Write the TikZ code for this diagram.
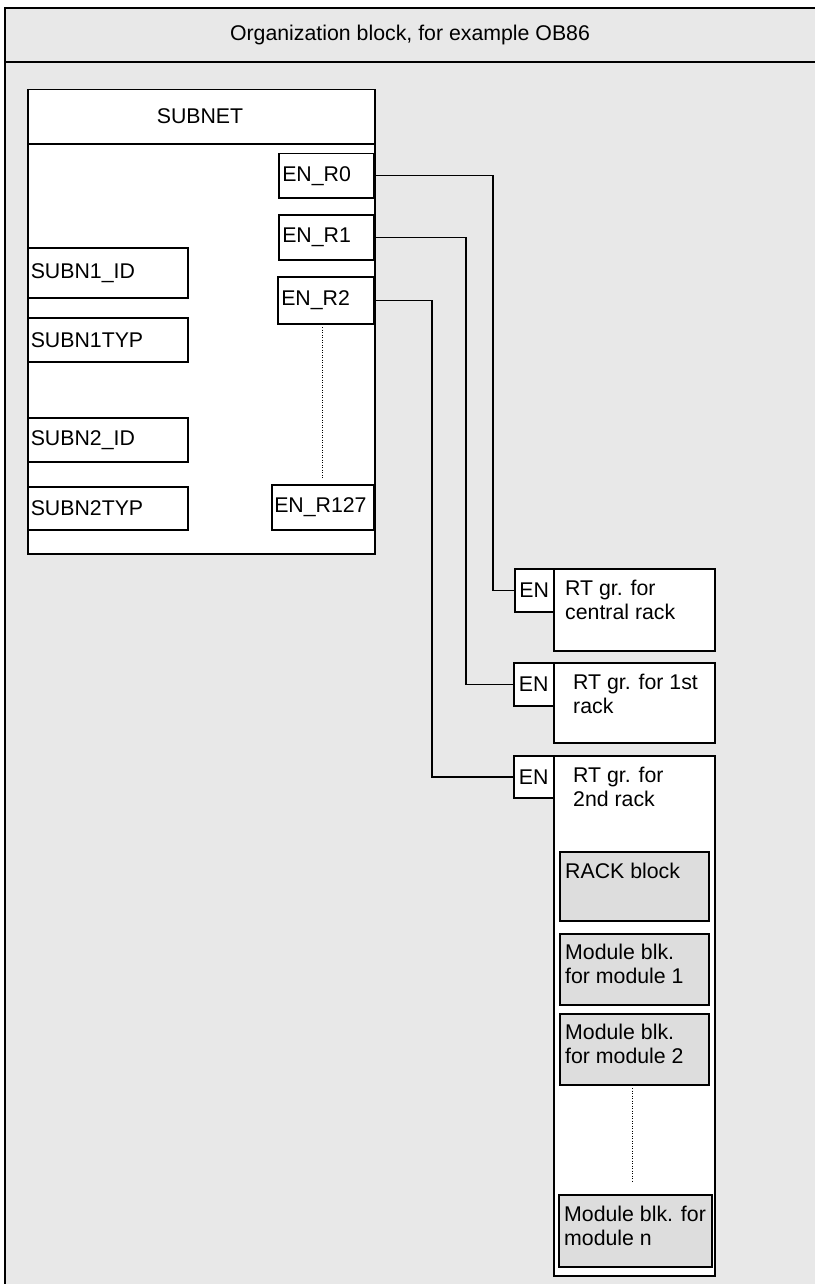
\documentclass[tikz,border=0pt]{standalone}
\usepackage{fontspec}
\setmainfont{Liberation Sans}
\definecolor{bggray}{HTML}{E8E8E8}
\definecolor{blkgray}{HTML}{DDDDDD}
\begin{document}
\begin{tikzpicture}[x=1pt,y=-1pt,
  font=\fontsize{21.3}{24}\selectfont,
  frameline/.style={line width=1.5pt},
  bx/.style={draw, line width=1.5pt, fill=white, inner sep=0pt, anchor=north west},
  lbx/.style={bx, inner xsep=5pt, align=left},
  gbx/.style={bx, fill=blkgray},
  conn/.style={line width=1.5pt},
  dotline/.style={line width=1pt, dash pattern=on 1pt off 1.5pt},
  txt/.style={inner sep=0pt, anchor=north west, align=left}
]
\useasboundingbox (0,0) rectangle (815,1284);
% frame
\fill[bggray] (5,8) rectangle (815,1284);
\draw[frameline] (5,1284) -- (5,8) -- (815,8);
\draw[frameline] (5,62) -- (815,62);
\node (title) at (410,35) {Organization block, for example OB86};

% SUBNET block
\node[bx, minimum width=347pt, minimum height=464pt] (subnet) at (27,89) {};
\draw[frameline] (subnet.west |- 0,144) -- (subnet.east |- 0,144);
\node (subnettitle) at (200,116) {SUBNET};

\node[lbx, minimum width=95pt, minimum height=44pt, text width=88pt, inner xsep=3.5pt] (enr0) at (278,153) {EN\_R0};
\node[lbx, minimum width=95pt, minimum height=45pt, text width=88pt, inner xsep=3.5pt] (enr1) at (278,214) {EN\_R1};
\node[lbx, minimum width=96pt, minimum height=47pt, text width=89pt, inner xsep=3.5pt] (enr2) at (277,276) {EN\_R2};
\node[lbx, minimum width=102pt, minimum height=45pt, text width=97pt, inner xsep=2.5pt] (enr127) at (271,484) {EN\_R127};
\coordinate (d1) at (322,327);
\coordinate (d2) at (322,478);
\draw[dotline] (d1) -- (d2);

\node[lbx, minimum width=160pt, minimum height=50pt, text width=154pt, inner xsep=3pt] (s1id) at (27,247) {SUBN1\_ID};
\node[lbx, minimum width=160pt, minimum height=44pt, text width=154pt, inner xsep=3pt] (s1typ) at (27,317) {SUBN1TYP};
\node[lbx, minimum width=160pt, minimum height=44pt, text width=154pt, inner xsep=3pt] (s2id) at (27,417) {SUBN2\_ID};
\node[lbx, minimum width=160pt, minimum height=43pt, text width=154pt, inner xsep=3pt] (s2typ) at (27,486) {SUBN2TYP};

% run-time groups
\node[bx, minimum width=161pt, minimum height=82pt] (rt1) at (553,568) {};
\node[bx, minimum width=39pt, minimum height=43pt] (en1) at (514,568) {EN};
\node[txt] (rt1t) at (565,580) {RT gr. for\\central rack};

\node[bx, minimum width=161pt, minimum height=80pt] (rt2) at (553,662) {};
\node[bx, minimum width=40pt, minimum height=43pt] (en2) at (513,662) {EN};
\node[txt] (rt2t) at (573,674) {RT gr. for 1st\\rack};

\node[bx, minimum width=161pt, minimum height=520pt] (rt3) at (553,755) {};
\node[bx, minimum width=40pt, minimum height=42pt] (en3) at (513,755) {EN};
\node[txt] (rt3t) at (573,767) {RT gr. for\\2nd rack};

\node[gbx, minimum width=149pt, minimum height=69pt] (rack) at (559,851) {};
\node[txt] (rackt) at (565,863) {RACK block};
\node[gbx, minimum width=149pt, minimum height=71pt] (mod1) at (559,933) {};
\node[txt] (mod1t) at (565,944) {Module blk.\\for module 1};
\node[gbx, minimum width=149pt, minimum height=71pt] (mod2) at (559,1013) {};
\node[txt] (mod2t) at (565,1024) {Module blk.\\for module 2};
\coordinate (d3) at (632,1088);
\coordinate (d4) at (632,1182);
\draw[dotline] (d3) -- (d4);
\node[gbx, minimum width=153pt, minimum height=72pt] (modn) at (558,1194) {};
\node[txt] (modnt) at (564,1206) {Module blk. for\\module n};

% connectors
\coordinate (v0) at (493,0);
\coordinate (v1) at (466,0);
\coordinate (v2) at (432,0);
\draw[conn] (enr0.east) -- (enr0.east -| v0) |- (en1.west);
\draw[conn] (enr1.east) -- (enr1.east -| v1) |- (en2.west);
\draw[conn] (enr2.east) -- (enr2.east -| v2) |- (en3.west);
\end{tikzpicture}
\end{document}
